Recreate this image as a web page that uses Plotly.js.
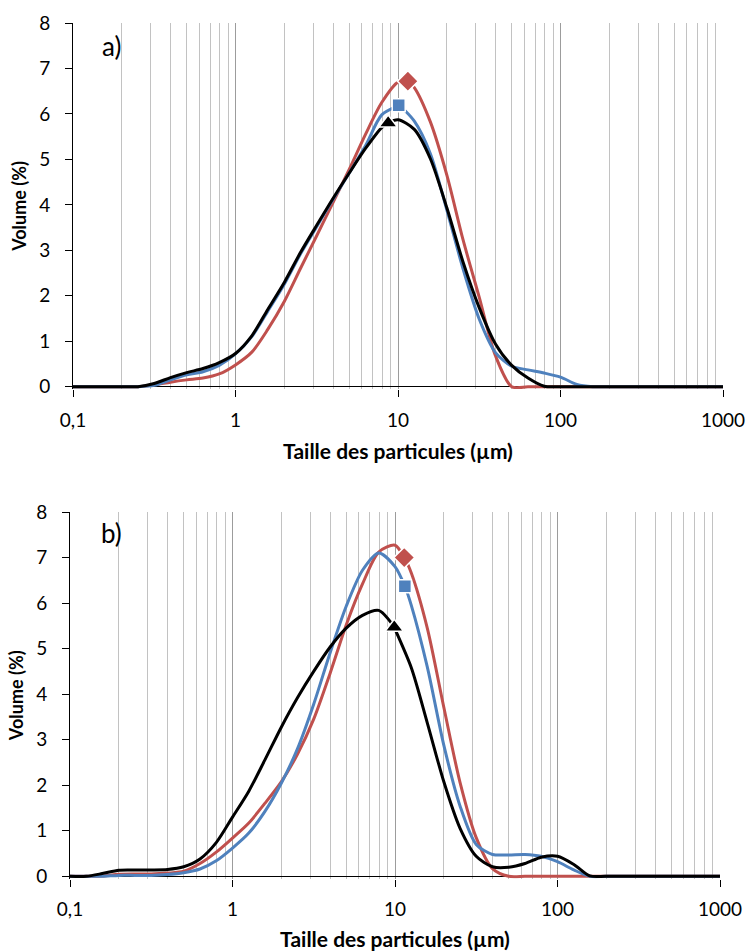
<!DOCTYPE html>
<html>
<head>
<meta charset="utf-8">
<script src="https://cdn.plot.ly/plotly-3.0.1.min.js"></script>
<style>
  html, body { margin: 0; padding: 0; background: #ffffff; }
  #chart { width: 749px; height: 951px; }
</style>
</head>
<body>
<div id="chart"></div>
<script>
// Particle size classes (µm)
const sizes = [0.1, 0.126, 0.158, 0.2, 0.251, 0.316, 0.398, 0.501, 0.631, 0.794,
               1, 1.26, 1.58, 2, 2.51, 3.16, 3.98, 5.01, 6.31, 7.94,
               10, 12.6, 15.8, 20, 25.1, 31.6, 39.8, 50.1, 63.1, 79.4,
               100, 126, 158, 200, 400, 1000];

// Panel a) volume distributions (%)
const volA_red   = [0, 0, 0, 0, 0, 0.04, 0.10, 0.15, 0.19, 0.28,
                    0.48, 0.76, 1.26, 1.88, 2.60, 3.32, 4.05, 4.78, 5.55, 6.25,
                    6.70, 6.58, 5.83, 4.65, 3.24, 1.97, 0.68, 0, 0, 0,
                    0, 0, 0, 0, 0, 0];
const volA_blue  = [0, 0, 0, 0, 0, 0.03, 0.15, 0.26, 0.33, 0.47,
                    0.72, 1.10, 1.66, 2.26, 2.92, 3.52, 4.12, 4.70, 5.30, 5.98,
                    6.18, 5.84, 5.13, 3.88, 2.60, 1.49, 0.75, 0.45, 0.37, 0.30,
                    0.21, 0.05, 0, 0, 0, 0];
const volA_black = [0, 0, 0, 0, 0, 0.07, 0.20, 0.31, 0.40, 0.53,
                    0.73, 1.12, 1.70, 2.30, 2.95, 3.55, 4.14, 4.70, 5.24, 5.70,
                    5.87, 5.66, 5.02, 3.93, 2.75, 1.74, 0.94, 0.47, 0.19, 0.01,
                    0, 0, 0, 0, 0, 0];

// Panel b) volume distributions (%)
const volB_red   = [0, 0, 0.005, 0.045, 0.05, 0.05, 0.07, 0.11, 0.28, 0.53,
                    0.84, 1.17, 1.60, 2.08, 2.68, 3.45, 4.45, 5.52, 6.42, 7.12,
                    7.27, 6.66, 5.45, 3.70, 2.07, 0.85, 0.17, 0, 0, 0,
                    0, 0, 0, 0, 0, 0];
const volB_blue  = [0, 0, 0, 0.02, 0.02, 0.02, 0.04, 0.08, 0.16, 0.34,
                    0.62, 0.95, 1.42, 2.05, 2.80, 3.78, 4.90, 5.93, 6.72, 7.10,
                    6.80, 5.95, 4.60, 2.87, 1.55, 0.70, 0.48, 0.47, 0.48, 0.44,
                    0.32, 0.14, 0, 0, 0, 0];
const volB_black = [0, 0, 0.06, 0.135, 0.14, 0.14, 0.15, 0.21, 0.38, 0.74,
                    1.30, 1.87, 2.55, 3.28, 3.92, 4.50, 5.03, 5.45, 5.73, 5.84,
                    5.43, 4.58, 3.37, 2.07, 1.06, 0.44, 0.21, 0.20, 0.28, 0.42,
                    0.44, 0.26, 0.01, 0, 0, 0];

// Single marked point of each curve [size, volume]
const markA_red = [11.5, 6.72], markA_blue = [10.1, 6.19], markA_black = [8.7, 5.80];
const markB_red = [11.4, 7.00], markB_blue = [11.5, 6.37], markB_black = [9.9, 5.47];

// Axis labels
const xTickVals = [0.1, 1, 10, 100, 1000];
const xTickText = ['0,1', '1', '10', '100', '1000'];
const yTickVals = [0, 1, 2, 3, 4, 5, 6, 7, 8];
const xTitle = 'Taille des particules (µm)';
const yTitle = 'Volume (%)';
const panelLabels = ['a)', 'b)'];

// Series styles
const RED = '#c0504d', BLUE = '#4f81bd', BLACK = '#000000';
const FONT = 'Lato, "Open Sans", sans-serif';

// Grid lines at 2..9 of every decade
const minorGrid = [];
[0.1, 1, 10, 100].forEach(d => { for (let m = 2; m <= 9; m++) minorGrid.push(+(m * d).toPrecision(3)); });

// Insert the marked point into a curve so the line passes through it
function withPoint(xs, ys, pt) {
  const x = [], y = [];
  let done = false;
  for (let i = 0; i < xs.length; i++) {
    if (!done && pt[0] < xs[i]) { x.push(pt[0]); y.push(pt[1]); done = true; }
    x.push(xs[i]); y.push(ys[i]);
  }
  return { x, y };
}

function curve(vals, pt, color, xa, ya) {
  const d = withPoint(sizes, vals, pt);
  return { x: d.x, y: d.y, xaxis: xa, yaxis: ya, type: 'scatter', mode: 'lines',
           line: { color: color, width: 3, shape: 'spline', smoothing: 0.8 },
           hoverinfo: 'x+y', showlegend: false };
}
function mark(pt, color, symbol, size, xa, ya) {
  return { x: [pt[0]], y: [pt[1]], xaxis: xa, yaxis: ya, type: 'scatter', mode: 'markers',
           marker: { color: color, symbol: symbol, size: size, line: { color: '#ffffff', width: 1.5 } },
           cliponaxis: false, showlegend: false };
}

const data = [
  curve(volA_red, markA_red, RED, 'x', 'y'),
  curve(volA_blue, markA_blue, BLUE, 'x', 'y'),
  curve(volA_black, markA_black, BLACK, 'x', 'y'),
  mark(markA_red, RED, 'diamond', 16, 'x', 'y'),
  mark(markA_blue, BLUE, 'square', 13, 'x', 'y'),
  mark(markA_black, BLACK, 'triangle-up', 16, 'x', 'y'),
  curve(volB_red, markB_red, RED, 'x2', 'y2'),
  curve(volB_blue, markB_blue, BLUE, 'x2', 'y2'),
  curve(volB_black, markB_black, BLACK, 'x2', 'y2'),
  mark(markB_red, RED, 'diamond', 16, 'x2', 'y2'),
  mark(markB_blue, BLUE, 'square', 13, 'x2', 'y2'),
  mark(markB_black, BLACK, 'triangle-up', 16, 'x2', 'y2')
];

// Page geometry (pixels)
const W = 749, H = 951;
const fx = v => v / W;
const fy = v => 1 - v / H;
const UNIT = 45.5;     // pixels per 1 % on the value axis
const PAD = 0.05;      // room below zero so thick zero lines are not cut

function xAxis(left, right, anchor) {
  return {
    type: 'log', range: [-1, 3], domain: [fx(left), fx(right)], anchor: anchor,
    tickmode: 'array', tickvals: xTickVals, ticktext: xTickText,
    ticks: 'outside', ticklen: 7, tickwidth: 1, tickcolor: '#000',
    ticklabelstandoff: 7,
    showline: false, zeroline: false,
    showgrid: true, gridcolor: '#9c9c9c', gridwidth: 1,
    minor: { tickmode: 'array', tickvals: minorGrid, showgrid: true, gridcolor: '#c2c2c2', gridwidth: 1, ticks: '' },
    tickfont: { family: FONT, size: 19, color: '#000' },
    title: { text: xTitle, font: { family: FONT, size: 21, color: '#000', weight: 'bold' }, standoff: 14 },
    fixedrange: true
  };
}
function yAxis(top, bottom, anchor) {
  return {
    range: [-PAD, 8], domain: [fy(bottom + PAD * UNIT), fy(top)], anchor: anchor,
    tickmode: 'array', tickvals: yTickVals,
    ticks: 'outside', ticklen: 7, tickwidth: 1, tickcolor: '#000',
    ticklabelstandoff: 11,
    showline: true, linecolor: '#000', linewidth: 1,
    showgrid: false, zeroline: true, zerolinecolor: '#000', zerolinewidth: 1,
    tickfont: { family: FONT, size: 19, color: '#000' },
    title: { text: yTitle, font: { family: FONT, size: 18, color: '#000', weight: 'bold' }, standoff: 7 },
    fixedrange: true
  };
}

const layout = {
  width: W, height: H,
  margin: { l: 0, r: 0, t: 0, b: 0 },
  paper_bgcolor: '#ffffff', plot_bgcolor: '#ffffff',
  showlegend: false,
  xaxis: xAxis(73, 723, 'y'),
  yaxis: yAxis(23, 386.7, 'x'),
  xaxis2: xAxis(70, 720, 'y2'),
  yaxis2: yAxis(512, 876.3, 'x2'),
  annotations: [
    { text: panelLabels[0], xref: 'paper', yref: 'paper', x: fx(100), y: fy(46),
      xanchor: 'left', yanchor: 'middle', showarrow: false,
      font: { family: FONT, size: 26, color: '#000' } },
    { text: panelLabels[1], xref: 'paper', yref: 'paper', x: fx(99), y: fy(533),
      xanchor: 'left', yanchor: 'middle', showarrow: false,
      font: { family: FONT, size: 26, color: '#000' } }
  ]
};

Plotly.newPlot('chart', data, layout, { staticPlot: true, displayModeBar: false });
</script>
</body>
</html>
